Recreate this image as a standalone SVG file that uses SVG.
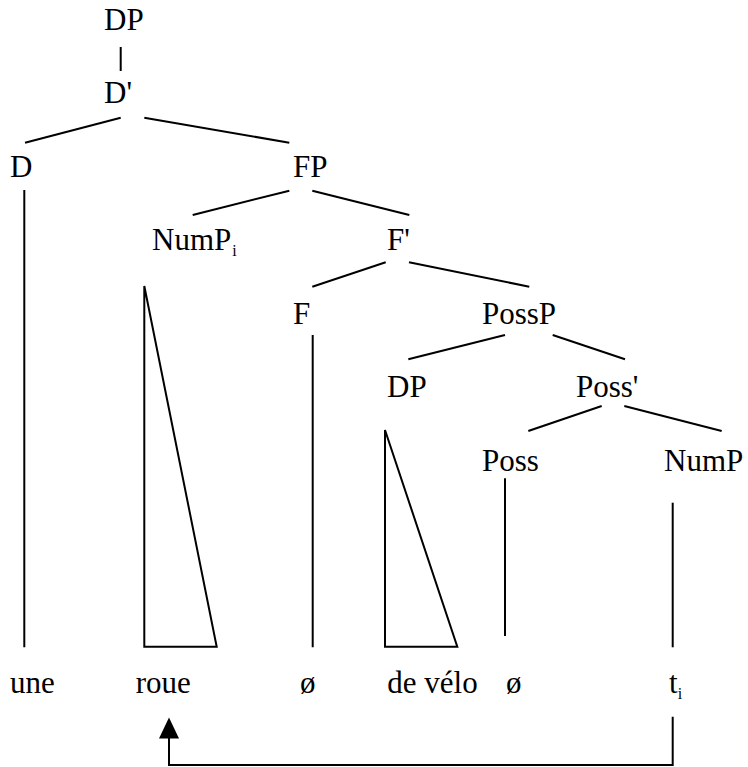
<svg xmlns="http://www.w3.org/2000/svg" width="748" height="767" viewBox="0 0 748 767">
<style>
text{font-family:"Liberation Serif","Times New Roman",serif;font-size:31px;fill:#000}
.sub{font-size:16px}
.ln{stroke:#000;stroke-width:2;fill:none;stroke-linecap:butt}
</style>
<rect width="748" height="767" fill="#fff"/>
<g id="connectors" class="ln">
<line x1="120.7" y1="47" x2="120.7" y2="71"/>
<line x1="120.7" y1="117.7" x2="25" y2="142.7"/>
<line x1="144.3" y1="117.7" x2="289.3" y2="142.7"/>
<line x1="24.3" y1="190" x2="24.3" y2="647.3"/>
<line x1="289.3" y1="190.7" x2="192.7" y2="215"/>
<line x1="312.3" y1="190.7" x2="409.3" y2="215"/>
<line x1="385.7" y1="262.3" x2="312.3" y2="286.7"/>
<line x1="409" y1="262.3" x2="529.3" y2="286.7"/>
<polygon points="144.3,286 144.3,646.7 216.7,646.7"/>
<line x1="312.7" y1="335" x2="312.7" y2="647.3"/>
<line x1="505" y1="335" x2="408.3" y2="359.3"/>
<line x1="552.7" y1="335" x2="625" y2="359.3"/>
<line x1="601.7" y1="406" x2="528.3" y2="431"/>
<line x1="624.3" y1="406" x2="721.7" y2="431"/>
<polygon points="385,430 385,646.7 457.3,646.7"/>
<line x1="505" y1="478.3" x2="505" y2="636"/>
<line x1="672.7" y1="502.7" x2="672.7" y2="647.3"/>
<polyline points="672.7,716.7 672.7,765 169,765 169,736"/>
<polygon points="169,717.5 159,738.5 179,738.5" fill="#000" stroke="none"/>
</g>
<g id="n-DP"><text x="104" y="30">DP</text></g>
<g id="n-Dbar"><text x="104" y="103">D'</text></g>
<g id="n-D"><text x="10" y="177">D</text></g>
<g id="n-FP"><text x="293" y="177">FP</text></g>
<g id="n-NumPi"><text x="152" y="250">NumP<tspan class="sub" dx="1" dy="6">i</tspan></text></g>
<g id="n-Fbar"><text x="387" y="250">F'</text></g>
<g id="n-F"><text x="293" y="324">F</text></g>
<g id="n-PossP"><text x="482" y="324">PossP</text></g>
<g id="n-DP2"><text x="387" y="397">DP</text></g>
<g id="n-Possbar"><text x="576" y="397">Poss'</text></g>
<g id="n-Poss"><text x="482" y="471">Poss</text></g>
<g id="n-NumP"><text x="664" y="471">NumP</text></g>
<g id="w-une"><text x="10" y="693">une</text></g>
<g id="w-roue"><text x="135.7" y="693">roue</text></g>
<g id="w-o1"><text x="300" y="693">ø</text></g>
<g id="w-develo"><text x="387.3" y="693">de vélo</text></g>
<g id="w-o2"><text x="506" y="693">ø</text></g>
<g id="w-ti"><text x="669" y="693">t<tspan class="sub" dy="6">i</tspan></text></g>
</svg>
